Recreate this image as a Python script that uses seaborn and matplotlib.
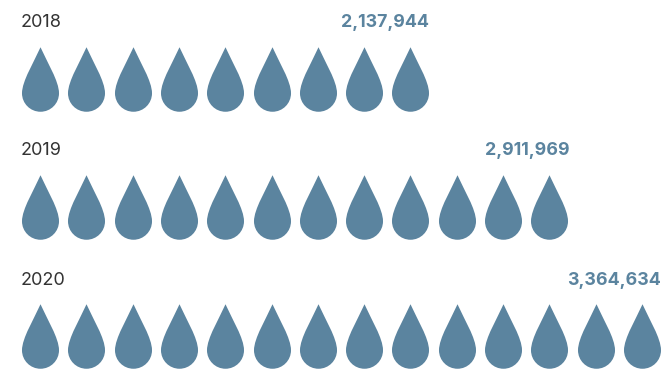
import matplotlib
matplotlib.use("Agg")
import matplotlib.pyplot as plt
import pandas as pd
import seaborn as sns
from matplotlib.path import Path

years = ["2018", "2019", "2020"]
totals = ["2,137,944", "2,911,969", "3,364,634"]
drop_counts = [9, 12, 14]

DPI = 100
W, H = 662, 369
COLOR = "#5b849f"
TEXT = "#333333"

sns.set_theme(style="white")
plt.rcParams["font.family"] = ["Inter", "DejaVu Sans"]

rows = [{"row": r, "drop": d} for r, n in enumerate(drop_counts) for d in range(n)]
df = pd.DataFrame(rows)

# Teardrop marker: apex on top, gently convex flanks, round base
k = 0.5523
R = 0.574
cy = -0.426
verts = [
    (0, 1),
    (0.2, 0.55), (R, -0.05), (R, cy),
    (R, cy - k * R), (k * R, -1), (0, -1),
    (-k * R, -1), (-R, cy - k * R), (-R, cy),
    (-R, -0.05), (-0.2, 0.55), (0, 1),
    (0, 1),
]
codes = [Path.MOVETO] + [Path.CURVE4] * 12 + [Path.CLOSEPOLY]
drop_marker = Path(verts, codes)

fig = plt.figure(figsize=(W / DPI, H / DPI), dpi=DPI, facecolor="white")
ax = fig.add_axes([0, 0, 1, 1])

sns.scatterplot(
    data=df, x="drop", y="row", ax=ax, marker=drop_marker,
    s=(64.5 * 72 / DPI) ** 2, color=COLOR, linewidth=0, legend=False, clip_on=False,
)

DX, DY = 46.3, 128.25
ax.set_xlim(-40 / DX, (W - 40) / DX)
ax.set_ylim((H - 79) / DY, -79 / DY)
ax.axis("off")

px = 72 / DPI
label_dy = [56.5, 57, 55]
value_dx = [0, 2, 0.5]
for r, (yr, tot, n) in enumerate(zip(years, totals, drop_counts)):
    ax.annotate(yr, (0, r), xytext=(-19 * px, label_dy[r] * px), textcoords="offset points",
                ha="left", va="center", fontsize=13, color=TEXT)
    ax.annotate(tot, (n - 1, r), xytext=((18.5 + value_dx[r]) * px, label_dy[r] * px),
                textcoords="offset points", ha="right", va="center",
                fontsize=12.8, fontweight="bold", color=COLOR)

fig.savefig("out.png", dpi=DPI)
